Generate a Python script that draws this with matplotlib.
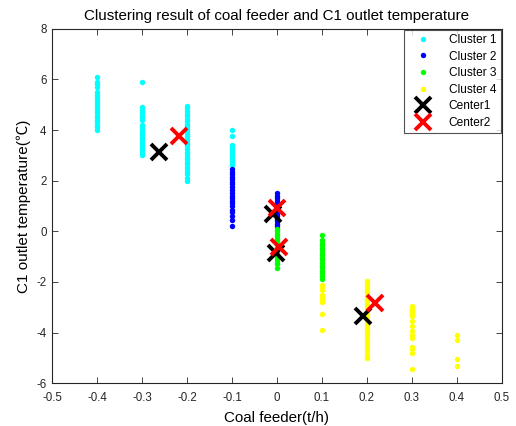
import matplotlib
matplotlib.use("Agg")
import matplotlib.pyplot as plt

plt.rcParams['font.family'] = ['Liberation Sans', 'Noto Sans CJK SC', 'DejaVu Sans']
plt.rcParams['axes.unicode_minus'] = False

# ---- data ----
c1_x = [-0.4]*20 + [-0.3]*20 + [-0.2]*30 + [-0.1]*11
c1_y = [6.1, 5.9, 5.8, 5.7, 5.5, 5.4, 5.3, 5.2, 5.1, 5.0, 4.9, 4.8, 4.7, 4.6, 4.5, 4.4, 4.3, 4.2, 4.1, 4.0,
        5.9, 4.9, 4.8, 4.7, 4.6, 4.5, 4.4, 4.2, 4.1, 4.0, 3.9, 3.8, 3.7, 3.6, 3.5, 3.4, 3.3, 3.2, 3.1, 3.0,
        4.95, 4.85, 4.75, 4.65, 4.55, 4.45, 4.35, 4.25, 4.15, 4.05, 3.95, 3.85, 3.75, 3.65, 3.55,
        3.45, 3.35, 3.25, 3.15, 3.05, 2.95, 2.85, 2.75, 2.65, 2.55, 2.45, 2.35, 2.25, 2.1, 2.0,
        4.0, 3.75, 3.4, 3.3, 3.2, 3.1, 3.0, 2.9, 2.8, 2.7, 2.6]

c2_x = [-0.1]*20 + [0.0]*14
c2_y = [2.45, 2.35, 2.25, 2.15, 2.05, 1.95, 1.85, 1.75, 1.65, 1.5, 1.4, 1.3, 1.2, 1.1, 1.0, 0.85, 0.75, 0.6, 0.45, 0.22,
        1.5, 1.4, 1.3, 1.2, 1.1, 1.0, 0.9, 0.8, 0.7, 0.6, 0.5, 0.4, 0.3, 0.2]

c3_x = [0.0]*16 + [0.1]*17
c3_y = [0.1, 0.0, -0.1, -0.2, -0.3, -0.4, -0.5, -0.6, -0.7, -0.8, -0.9, -1.0, -1.1, -1.2, -1.3, -1.45,
        -0.15, -0.35, -0.45, -0.55, -0.65, -0.75, -0.85, -0.95, -1.05, -1.15, -1.25, -1.35, -1.45, -1.55,
        -1.65, -1.75, -1.9]

c4_x = [0.1]*9 + [0.2]*30 + [0.3]*14 + [0.4]*4
c4_y = [-2.1, -2.2, -2.3, -2.5, -2.6, -2.7, -2.8, -3.25, -3.9,
        -1.95, -2.05, -2.15, -2.25, -2.35, -2.45, -2.55, -2.65, -2.75, -2.85, -2.95, -3.05, -3.15,
        -3.25, -3.35, -3.45, -3.55, -3.65, -3.75, -3.85, -3.95, -4.05, -4.15, -4.25, -4.4,
        -4.55, -4.7, -4.85, -5.0, -4.95,
        -2.95, -3.05, -3.15, -3.25, -3.35, -3.55, -3.75, -3.95, -4.1, -4.2, -4.55, -4.65, -4.8, -5.45,
        -4.1, -4.3, -5.05, -5.3]

center1_x = [-0.263, -0.009, -0.002, 0.192]
center1_y = [3.12, 0.67, -0.84, -3.33]
center2_x = [-0.217, 0.001, 0.005, 0.218]
center2_y = [3.76, 0.93, -0.61, -2.82]

xticks = [-0.5, -0.4, -0.3, -0.2, -0.1, 0, 0.1, 0.2, 0.3, 0.4, 0.5]
xtick_labels = ['-0.5', '-0.4', '-0.3', '-0.2', '-0.1', '0', '0.1', '0.2', '0.3', '0.4', '0.5']
yticks = [-6, -4, -2, 0, 2, 4, 6, 8]

# ---- figure ----
W, H = 516, 426
fig = plt.figure(figsize=(W/100, H/100), dpi=100)
left, right, top, bottom = 52.3, 501.7, 28.7, 383.3
ax = fig.add_axes([left/W, (H-bottom)/H, (right-left)/W, (bottom-top)/H])

ms = 3.9
ax.plot(c1_x, c1_y, 'o', color=(0, 1, 1), ms=ms, mew=0, label='Cluster 1')
ax.plot(c2_x, c2_y, 'o', color=(0, 0, 1), ms=ms, mew=0, label='Cluster 2')
ax.plot(c3_x, c3_y, 'o', color=(0, 1, 0), ms=ms, mew=0, label='Cluster 3')
ax.plot(c4_x, c4_y, 'o', color=(1, 1, 0), ms=ms, mew=0, label='Cluster 4')
ax.plot(center1_x, center1_y, 'x', color='black', ms=11, mew=2.8, label='Center1')
ax.plot(center2_x, center2_y, 'x', color=(1, 0, 0), ms=11, mew=2.8, label='Center2')

ax.set_xlim(-0.5, 0.5)
ax.set_ylim(-6, 8)
ax.set_xticks(xticks)
ax.set_xticklabels(xtick_labels)
ax.set_yticks(yticks)
ax.tick_params(direction='in', top=True, right=True, length=4, width=0.6,
               labelsize=8.3, colors='#262626')
ax.tick_params(axis='x', pad=6)
ax.tick_params(axis='y', pad=4)
for s in ax.spines.values():
    s.set_linewidth(0.8)
    s.set_color('#262626')

ax.set_title('Clustering result of coal feeder and C1 outlet temperature', fontsize=10.9, pad=6)
ax.set_xlabel('Coal feeder(t/h)', fontsize=10.9, labelpad=5)
ax.set_ylabel('C1 outlet temperature(℃)', fontsize=11, labelpad=4)

leg = ax.legend(loc='upper right', fontsize=8.6, frameon=True, fancybox=False,
                borderaxespad=0.1, handlelength=2.4, handletextpad=1.0,
                labelspacing=0.38, borderpad=0.35)
leg.get_frame().set_edgecolor('#262626')
leg.get_frame().set_linewidth(0.8)

fig.savefig('out.png', dpi=100)
